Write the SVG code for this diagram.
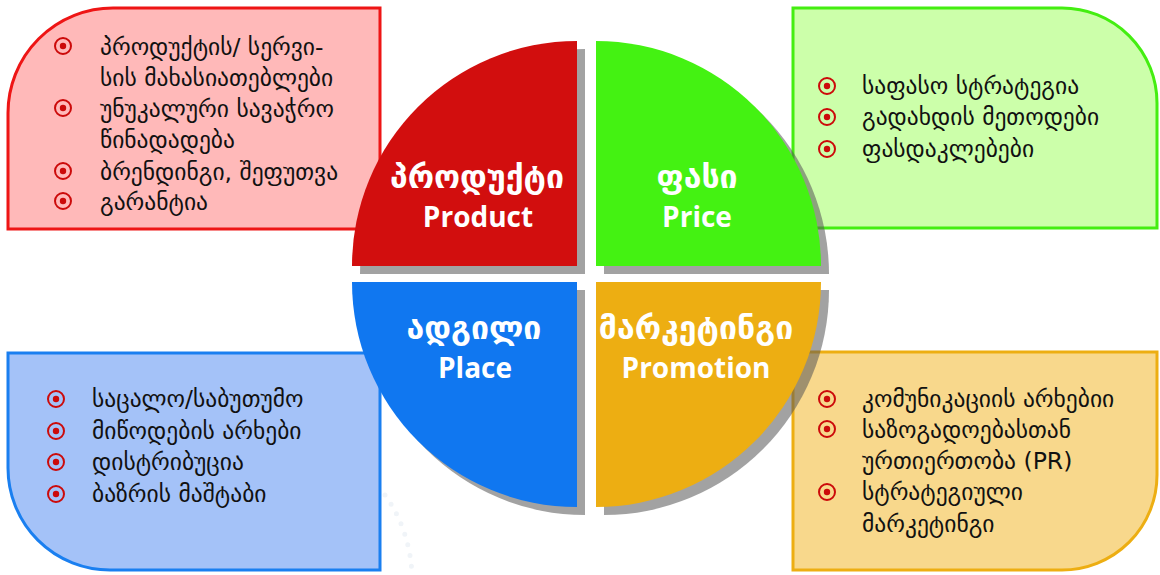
<svg xmlns="http://www.w3.org/2000/svg" width="1160" height="575" viewBox="0 0 1160 575">
<style>
.item{font-family:"DejaVu Sans","Noto Sans",sans-serif;font-size:23.5px;fill:#111}
.title{font-family:"DejaVu Sans","Noto Sans",sans-serif;font-size:32px;font-weight:bold;fill:#fff;text-anchor:middle}
.en{font-family:"Open Sans","Lato",sans-serif;font-size:28px;font-weight:bold;fill:#fff;text-anchor:middle}
.shadow{fill:#555;opacity:0.55}
</style>
<defs>
<g id="bul"><circle r="8" fill="none" stroke="#cc0a0a" stroke-width="2"/><circle r="3.2" fill="#cc0a0a"/></g>
</defs>
<rect width="1160" height="575" fill="#fff"/>
<g id="decor" fill="none" stroke="#f0f4f8" stroke-width="5" stroke-linecap="round" stroke-dasharray="0 11">
<path d="M385,495 Q410,530 412,575"/>
</g>
<g id="box-product">
<path d="M8,229 L8,113 A105,105 0 0 1 113,8 L380,8 L380,229 Z" fill="#ffb9b9" stroke="#ee1515" stroke-width="3"/>
<use href="#bul" x="63" y="46"/>
<use href="#bul" x="63" y="108"/>
<use href="#bul" x="63" y="171"/>
<use href="#bul" x="63" y="201"/>
<text class="item" x="100" y="55">პროდუქტის/ სერვი-</text>
<text class="item" x="100" y="86">სის მახასიათებლები</text>
<text class="item" x="100" y="117">უნუკალური სავაჭრო</text>
<text class="item" x="100" y="148">წინადადება</text>
<text class="item" x="100" y="180">ბრენდინგი, შეფუთვა</text>
<text class="item" x="100" y="210">გარანტია</text>
</g>
<g id="box-price">
<path d="M793,8 L1062,8 A95,95 0 0 1 1157,103 L1157,228 L793,228 Z" fill="#ccffaa" stroke="#44ee11" stroke-width="3"/>
<use href="#bul" x="827" y="86"/>
<use href="#bul" x="827" y="117"/>
<use href="#bul" x="827" y="149"/>
<text class="item" x="862" y="94">საფასო სტრატეგია</text>
<text class="item" x="862" y="125">გადახდის მეთოდები</text>
<text class="item" x="862" y="157">ფასდაკლებები</text>
</g>
<g id="box-place">
<path d="M8,353 L380,353 L380,570 L110,570 A102,102 0 0 1 8,468 Z" fill="#a4c2f8" stroke="#1a7ff0" stroke-width="3"/>
<use href="#bul" x="56" y="399"/>
<use href="#bul" x="56" y="431"/>
<use href="#bul" x="56" y="462"/>
<use href="#bul" x="56" y="494"/>
<text class="item" x="92" y="407">საცალო/საბუთუმო</text>
<text class="item" x="92" y="439">მიწოდების არხები</text>
<text class="item" x="92" y="470">დისტრიბუცია</text>
<text class="item" x="92" y="502">ბაზრის მაშტაბი</text>
</g>
<g id="box-promotion">
<path d="M793,352 L1157,352 L1157,475 A95,95 0 0 1 1062,570 L793,570 Z" fill="#f8d88c" stroke="#edae12" stroke-width="3"/>
<use href="#bul" x="827" y="399"/>
<use href="#bul" x="827" y="429"/>
<use href="#bul" x="827" y="492"/>
<text class="item" x="862" y="407">კომუნიკაციის არხებიი</text>
<text class="item" x="862" y="438">საზოგადოებასთან</text>
<text class="item" x="862" y="469">ურთიერთობა (PR)</text>
<text class="item" x="862" y="500">სტრატეგიული</text>
<text class="item" x="862" y="532">მარკეტინგი</text>
</g>
<g id="q-product">
<path class="shadow" d="M585,274 L360,274 A225,225 0 0 1 585,49 Z"/>
<path d="M577,266 L352,266 A225,225 0 0 1 577,41 Z" fill="#d20e0e"/>
<text class="title" x="477" y="188">პროდუქტი</text>
<text class="en" x="478" y="227">Product</text>
</g>
<g id="q-price">
<path class="shadow" d="M604,274 L604,49 A225,225 0 0 1 829,274 Z"/>
<path d="M596,266 L596,41 A225,225 0 0 1 821,266 Z" fill="#44f212"/>
<text class="title" x="697" y="188">ფასი</text>
<text class="en" x="697" y="227">Price</text>
</g>
<g id="q-place">
<path class="shadow" d="M585,290 L585,515 A225,225 0 0 1 360,290 Z"/>
<path d="M577,282 L577,507 A225,225 0 0 1 352,282 Z" fill="#1077f0"/>
<text class="title" x="474" y="339">ადგილი</text>
<text class="en" x="475" y="378">Place</text>
</g>
<g id="q-promotion">
<path class="shadow" d="M604,290 L829,290 A225,225 0 0 1 604,515 Z"/>
<path d="M596,282 L821,282 A225,225 0 0 1 596,507 Z" fill="#edae12"/>
<text class="title" x="696" y="339">მარკეტინგი</text>
<text class="en" x="696" y="378">Promotion</text>
</g>
<g id="connectors"/>
</svg>
